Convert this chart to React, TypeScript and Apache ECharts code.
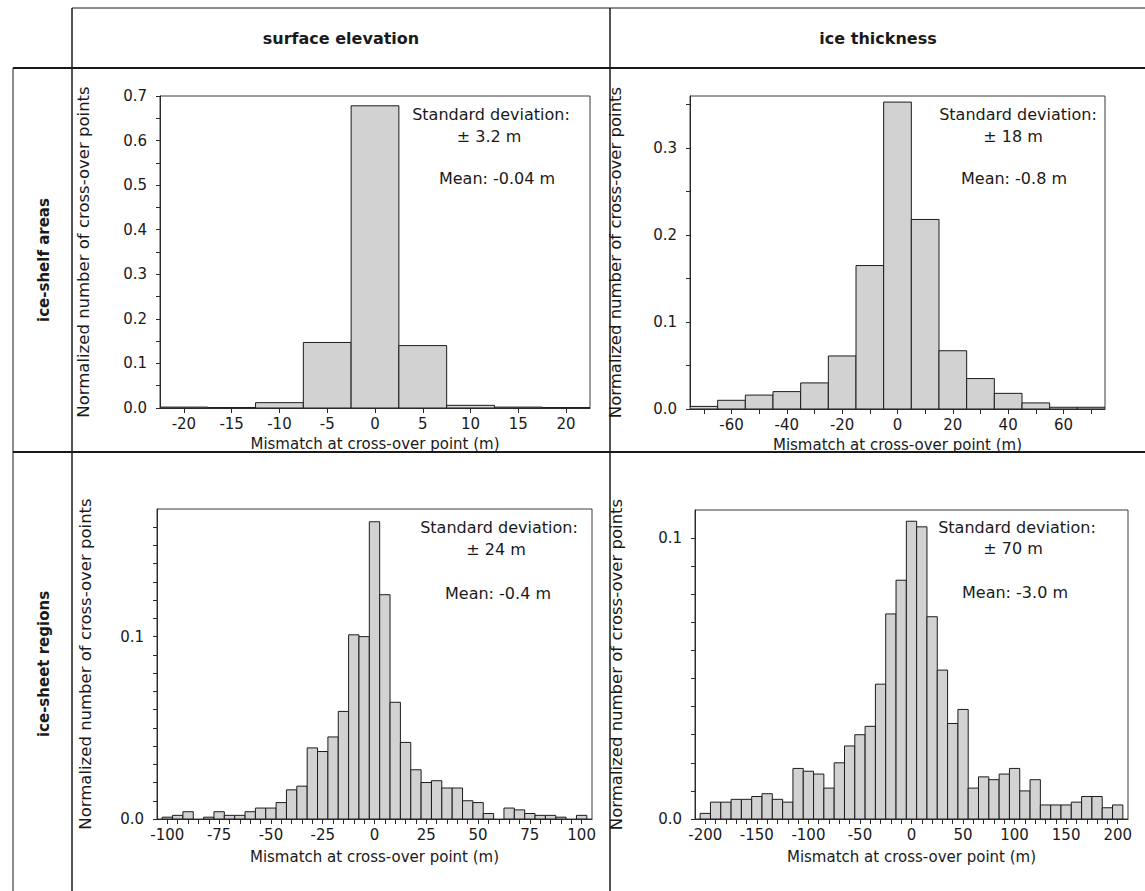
import React, { useEffect, useRef } from "react";
import * as echarts from "echarts";

const W = 1145;
const H = 891;
const FONT = '"DejaVu Sans", "Liberation Sans", sans-serif';
const TXT = "#1a1a1a";
const LINE = "#2a2a2a";
const BAR_FILL = "#d2d2d2";

// ---------- headers ----------
const columnHeaders = ["surface elevation", "ice thickness"];
const rowHeaders = ["ice-shelf areas", "ice-sheet regions"];
const xName = "Mismatch at cross-over point (m)";
const yName = "Normalized number of cross-over points";

// ---------- panel 1: surface elevation, ice-shelf areas (bin width 5 m) ----------
const p1Centers = [-20, -15, -10, -5, 0, 5, 10, 15, 20];
const p1Values = [0.002, 0.001, 0.012, 0.147, 0.678, 0.14, 0.006, 0.002, 0.001];
const p1XTicks = [-20, -15, -10, -5, 0, 5, 10, 15, 20];
const p1XLabels = [-20, -15, -10, -5, 0, 5, 10, 15, 20];
const p1YLabels = [0, 0.1, 0.2, 0.3, 0.4, 0.5, 0.6, 0.7];
const p1YTicks = [0, 0.05, 0.1, 0.15, 0.2, 0.25, 0.3, 0.35, 0.4, 0.45, 0.5, 0.55, 0.6, 0.65, 0.7];
const p1Stats = ["Standard deviation:", "± 3.2 m", "Mean: -0.04 m"];

// ---------- panel 2: ice thickness, ice-shelf areas (bin width 10 m) ----------
const p2Centers = [-70, -60, -50, -40, -30, -20, -10, 0, 10, 20, 30, 40, 50, 60, 70];
const p2Values = [0.003, 0.01, 0.016, 0.02, 0.03, 0.061, 0.165, 0.353, 0.218, 0.067, 0.035, 0.018, 0.007, 0.002, 0.002];
const p2XTicks = [-70, -60, -50, -40, -30, -20, -10, 0, 10, 20, 30, 40, 50, 60, 70];
const p2XLabels = [-60, -40, -20, 0, 20, 40, 60];
const p2YLabels = [0, 0.1, 0.2, 0.3];
const p2YTicks = [0, 0.05, 0.1, 0.15, 0.2, 0.25, 0.3, 0.35];
const p2Stats = ["Standard deviation:", "± 18 m", "Mean: -0.8 m"];

// ---------- panel 3: surface elevation, ice-sheet regions (bin width 5 m) ----------
const p3Centers = [
  -100, -95, -90, -85, -80, -75, -70, -65, -60, -55, -50, -45, -40, -35, -30, -25, -20, -15, -10, -5, 0,
  5, 10, 15, 20, 25, 30, 35, 40, 45, 50, 55, 60, 65, 70, 75, 80, 85, 90, 95, 100,
];
const p3Values = [
  0.001, 0.002, 0.004, 0.0, 0.001, 0.004, 0.002, 0.002, 0.004, 0.006, 0.006, 0.009, 0.016, 0.018, 0.039, 0.037,
  0.045, 0.059, 0.101, 0.1, 0.163, 0.123, 0.064, 0.042, 0.027, 0.02, 0.021, 0.017, 0.017, 0.01, 0.009, 0.003,
  0.0, 0.006, 0.005, 0.003, 0.002, 0.002, 0.001, 0.0, 0.002,
];
const p3XTicks = [
  -100, -95, -90, -85, -80, -75, -70, -65, -60, -55, -50, -45, -40, -35, -30, -25, -20, -15, -10, -5, 0,
  5, 10, 15, 20, 25, 30, 35, 40, 45, 50, 55, 60, 65, 70, 75, 80, 85, 90, 95, 100,
];
const p3XLabels = [-100, -75, -50, -25, 0, 25, 50, 75, 100];
const p3YLabels = [0, 0.1];
const p3YTicks = [0, 0.01, 0.02, 0.03, 0.04, 0.05, 0.06, 0.07, 0.08, 0.09, 0.1, 0.11, 0.12, 0.13, 0.14, 0.15, 0.16];
const p3Stats = ["Standard deviation:", "± 24 m", "Mean: -0.4 m"];

// ---------- panel 4: ice thickness, ice-sheet regions (bin width 10 m) ----------
const p4Centers = [
  -200, -190, -180, -170, -160, -150, -140, -130, -120, -110, -100, -90, -80, -70, -60, -50, -40, -30, -20, -10, 0,
  10, 20, 30, 40, 50, 60, 70, 80, 90, 100, 110, 120, 130, 140, 150, 160, 170, 180, 190, 200,
];
const p4Values = [
  0.002, 0.006, 0.006, 0.007, 0.007, 0.008, 0.009, 0.007, 0.006, 0.018, 0.017, 0.016, 0.011, 0.02, 0.026, 0.03,
  0.033, 0.048, 0.073, 0.085, 0.106, 0.104, 0.072, 0.053, 0.034, 0.039, 0.011, 0.015, 0.014, 0.016, 0.018, 0.01,
  0.014, 0.005, 0.005, 0.005, 0.006, 0.008, 0.008, 0.004, 0.005,
];
const p4XTicks = [
  -200, -190, -180, -170, -160, -150, -140, -130, -120, -110, -100, -90, -80, -70, -60, -50, -40, -30, -20, -10, 0,
  10, 20, 30, 40, 50, 60, 70, 80, 90, 100, 110, 120, 130, 140, 150, 160, 170, 180, 190, 200,
];
const p4XLabels = [-200, -150, -100, -50, 0, 50, 100, 150, 200];
const p4YLabels = [0, 0.1];
const p4YTicks = [0, 0.01, 0.02, 0.03, 0.04, 0.05, 0.06, 0.07, 0.08, 0.09, 0.1];
const p4Stats = ["Standard deviation:", "± 70 m", "Mean: -3.0 m"];

type Panel = {
  grid: { left: number; top: number; width: number; height: number };
  xMin: number;
  xMax: number;
  yMax: number;
  binWidth: number;
  centers: number[];
  values: number[];
  xTicks: number[];
  xLabels: number[];
  yTicks: number[];
  yLabels: number[];
  xNameGap: number;
  yNameGap: number;
  stats: string[];
  statPos: [number, number][];
};

const panels: Panel[] = [
  {
    grid: { left: 160, top: 96, width: 430, height: 312 },
    xMin: -22.5, xMax: 22.5, yMax: 0.7, binWidth: 5,
    centers: p1Centers, values: p1Values,
    xTicks: p1XTicks, xLabels: p1XLabels, yTicks: p1YTicks, yLabels: p1YLabels,
    xNameGap: 28, yNameGap: 68,
    stats: p1Stats, statPos: [[491, 114], [489, 136], [497, 178]],
  },
  {
    grid: { left: 690, top: 96, width: 415, height: 313 },
    xMin: -75, xMax: 75, yMax: 0.36, binWidth: 10,
    centers: p2Centers, values: p2Values,
    xTicks: p2XTicks, xLabels: p2XLabels, yTicks: p2YTicks, yLabels: p2YLabels,
    xNameGap: 28, yNameGap: 66,
    stats: p2Stats, statPos: [[1018, 114], [1013, 136], [1014, 178]],
  },
  {
    grid: { left: 157, top: 509, width: 435, height: 310 },
    xMin: -105, xMax: 105, yMax: 0.17, binWidth: 5,
    centers: p3Centers, values: p3Values,
    xTicks: p3XTicks, xLabels: p3XLabels, yTicks: p3YTicks, yLabels: p3YLabels,
    xNameGap: 30, yNameGap: 63,
    stats: p3Stats, statPos: [[499, 527], [496, 549], [498, 593]],
  },
  {
    grid: { left: 695, top: 510, width: 433, height: 309 },
    xMin: -210, xMax: 210, yMax: 0.11, binWidth: 10,
    centers: p4Centers, values: p4Values,
    xTicks: p4XTicks, xLabels: p4XLabels, yTicks: p4YTicks, yLabels: p4YLabels,
    xNameGap: 30, yNameGap: 70,
    stats: p4Stats, statPos: [[1017, 527], [1013, 548], [1015, 592]],
  },
];

function buildOption() {
  const grids: any[] = [];
  const xAxes: any[] = [];
  const yAxes: any[] = [];
  const series: any[] = [];
  const graphics: any[] = [];

  panels.forEach((p, i) => {
    grids.push({
      ...p.grid,
      containLabel: false,
      outerBoundsMode: "none",
      show: true,
      borderColor: "#3a3a3a",
      borderWidth: 1,
      backgroundColor: "transparent",
    });
    xAxes.push({
      type: "value",
      gridIndex: i,
      min: p.xMin,
      max: p.xMax,
      name: xName,
      nameLocation: "middle",
      nameGap: p.xNameGap,
      nameTextStyle: { fontFamily: FONT, fontSize: 15, color: TXT },
      axisLine: { show: true, onZero: false, lineStyle: { color: LINE, width: 1 } },
      axisTick: { show: true, inside: false, length: 5, customValues: p.xTicks, lineStyle: { color: LINE, width: 1 } },
      axisLabel: {
        show: true,
        customValues: p.xLabels,
        margin: 8,
        fontFamily: FONT,
        fontSize: 15,
        color: TXT,
        formatter: (v: number) => String(v),
      },
      splitLine: { show: false },
      minorTick: { show: false },
    });
    yAxes.push({
      type: "value",
      gridIndex: i,
      min: 0,
      max: p.yMax,
      name: yName,
      nameLocation: "middle",
      nameGap: p.yNameGap,
      nameTextStyle: { fontFamily: FONT, fontSize: 16.5, color: TXT },
      axisLine: { show: true, onZero: false, lineStyle: { color: LINE, width: 1 } },
      axisTick: { show: true, inside: false, length: 4, customValues: p.yTicks, lineStyle: { color: LINE, width: 1 } },
      axisLabel: {
        show: true,
        customValues: p.yLabels,
        margin: 13,
        fontFamily: FONT,
        fontSize: 15,
        color: TXT,
        formatter: (v: number) => v.toFixed(1),
      },
      splitLine: { show: false },
      minorTick: { show: false },
    });
    const bw = p.binWidth;
    series.push({
      type: "custom",
      xAxisIndex: i,
      yAxisIndex: i,
      clip: true,
      encode: { x: 0, y: 1 },
      data: p.centers.map((c, k) => [c, p.values[k]]),
      renderItem: (params: any, api: any) => {
        const c = api.value(0);
        const v = api.value(1);
        if (!v) return null;
        const a = api.coord([c - bw / 2, v]);
        const b = api.coord([c + bw / 2, 0]);
        return {
          type: "rect",
          shape: { x: a[0], y: a[1], width: b[0] - a[0], height: b[1] - a[1] },
          style: { fill: BAR_FILL, stroke: "#1c1c1c", lineWidth: 1 },
        };
      },
    });
    p.stats.forEach((t, k) => {
      graphics.push({
        type: "text",
        x: p.statPos[k][0],
        y: p.statPos[k][1],
        style: {
          text: t,
          fill: TXT,
          font: `16px ${FONT}`,
          textAlign: "center",
          textVerticalAlign: "middle",
        },
      });
    });
  });

  // table frame lines
  const lines: [number, number, number, number, number][] = [
    [72, 8, W, 8, 1],
    [13, 68, W, 68, 2],
    [13, 68, 13, H, 1],
    [72, 8, 72, H, 1.5],
    [610, 8, 610, H, 1.5],
    [13, 452, W, 452, 2],
  ];
  lines.forEach(([x1, y1, x2, y2, w]) => {
    graphics.push({
      type: "line",
      shape: { x1, y1, x2, y2 },
      style: { stroke: "#1a1a1a", lineWidth: w },
    });
  });

  // column headers
  const colCenters = [341, 878];
  columnHeaders.forEach((t, k) => {
    graphics.push({
      type: "text",
      x: colCenters[k],
      y: 38,
      style: {
        text: t,
        fill: TXT,
        font: `bold 16px ${FONT}`,
        textAlign: "center",
        textVerticalAlign: "middle",
      },
    });
  });
  // row headers (rotated)
  const rowCenters = [260, 664];
  rowHeaders.forEach((t, k) => {
    graphics.push({
      type: "text",
      x: 44,
      y: rowCenters[k],
      rotation: Math.PI / 2,
      style: {
        text: t,
        fill: TXT,
        font: `bold 15px ${FONT}`,
        textAlign: "center",
        textVerticalAlign: "middle",
      },
    });
  });

  return {
    animation: false,
    backgroundColor: "#ffffff",
    grid: grids,
    xAxis: xAxes,
    yAxis: yAxes,
    series,
    graphic: graphics,
  };
}

export default function App() {
  const ref = useRef<HTMLDivElement>(null);
  useEffect(() => {
    if (!ref.current) return;
    const chart = echarts.init(ref.current, null, { renderer: "svg" });
    chart.setOption(buildOption() as any);
    return () => chart.dispose();
  }, []);
  return (
    <div
      ref={ref}
      style={{ position: "absolute", left: 0, top: 0, width: W, height: H, background: "#fff" }}
    />
  );
}
